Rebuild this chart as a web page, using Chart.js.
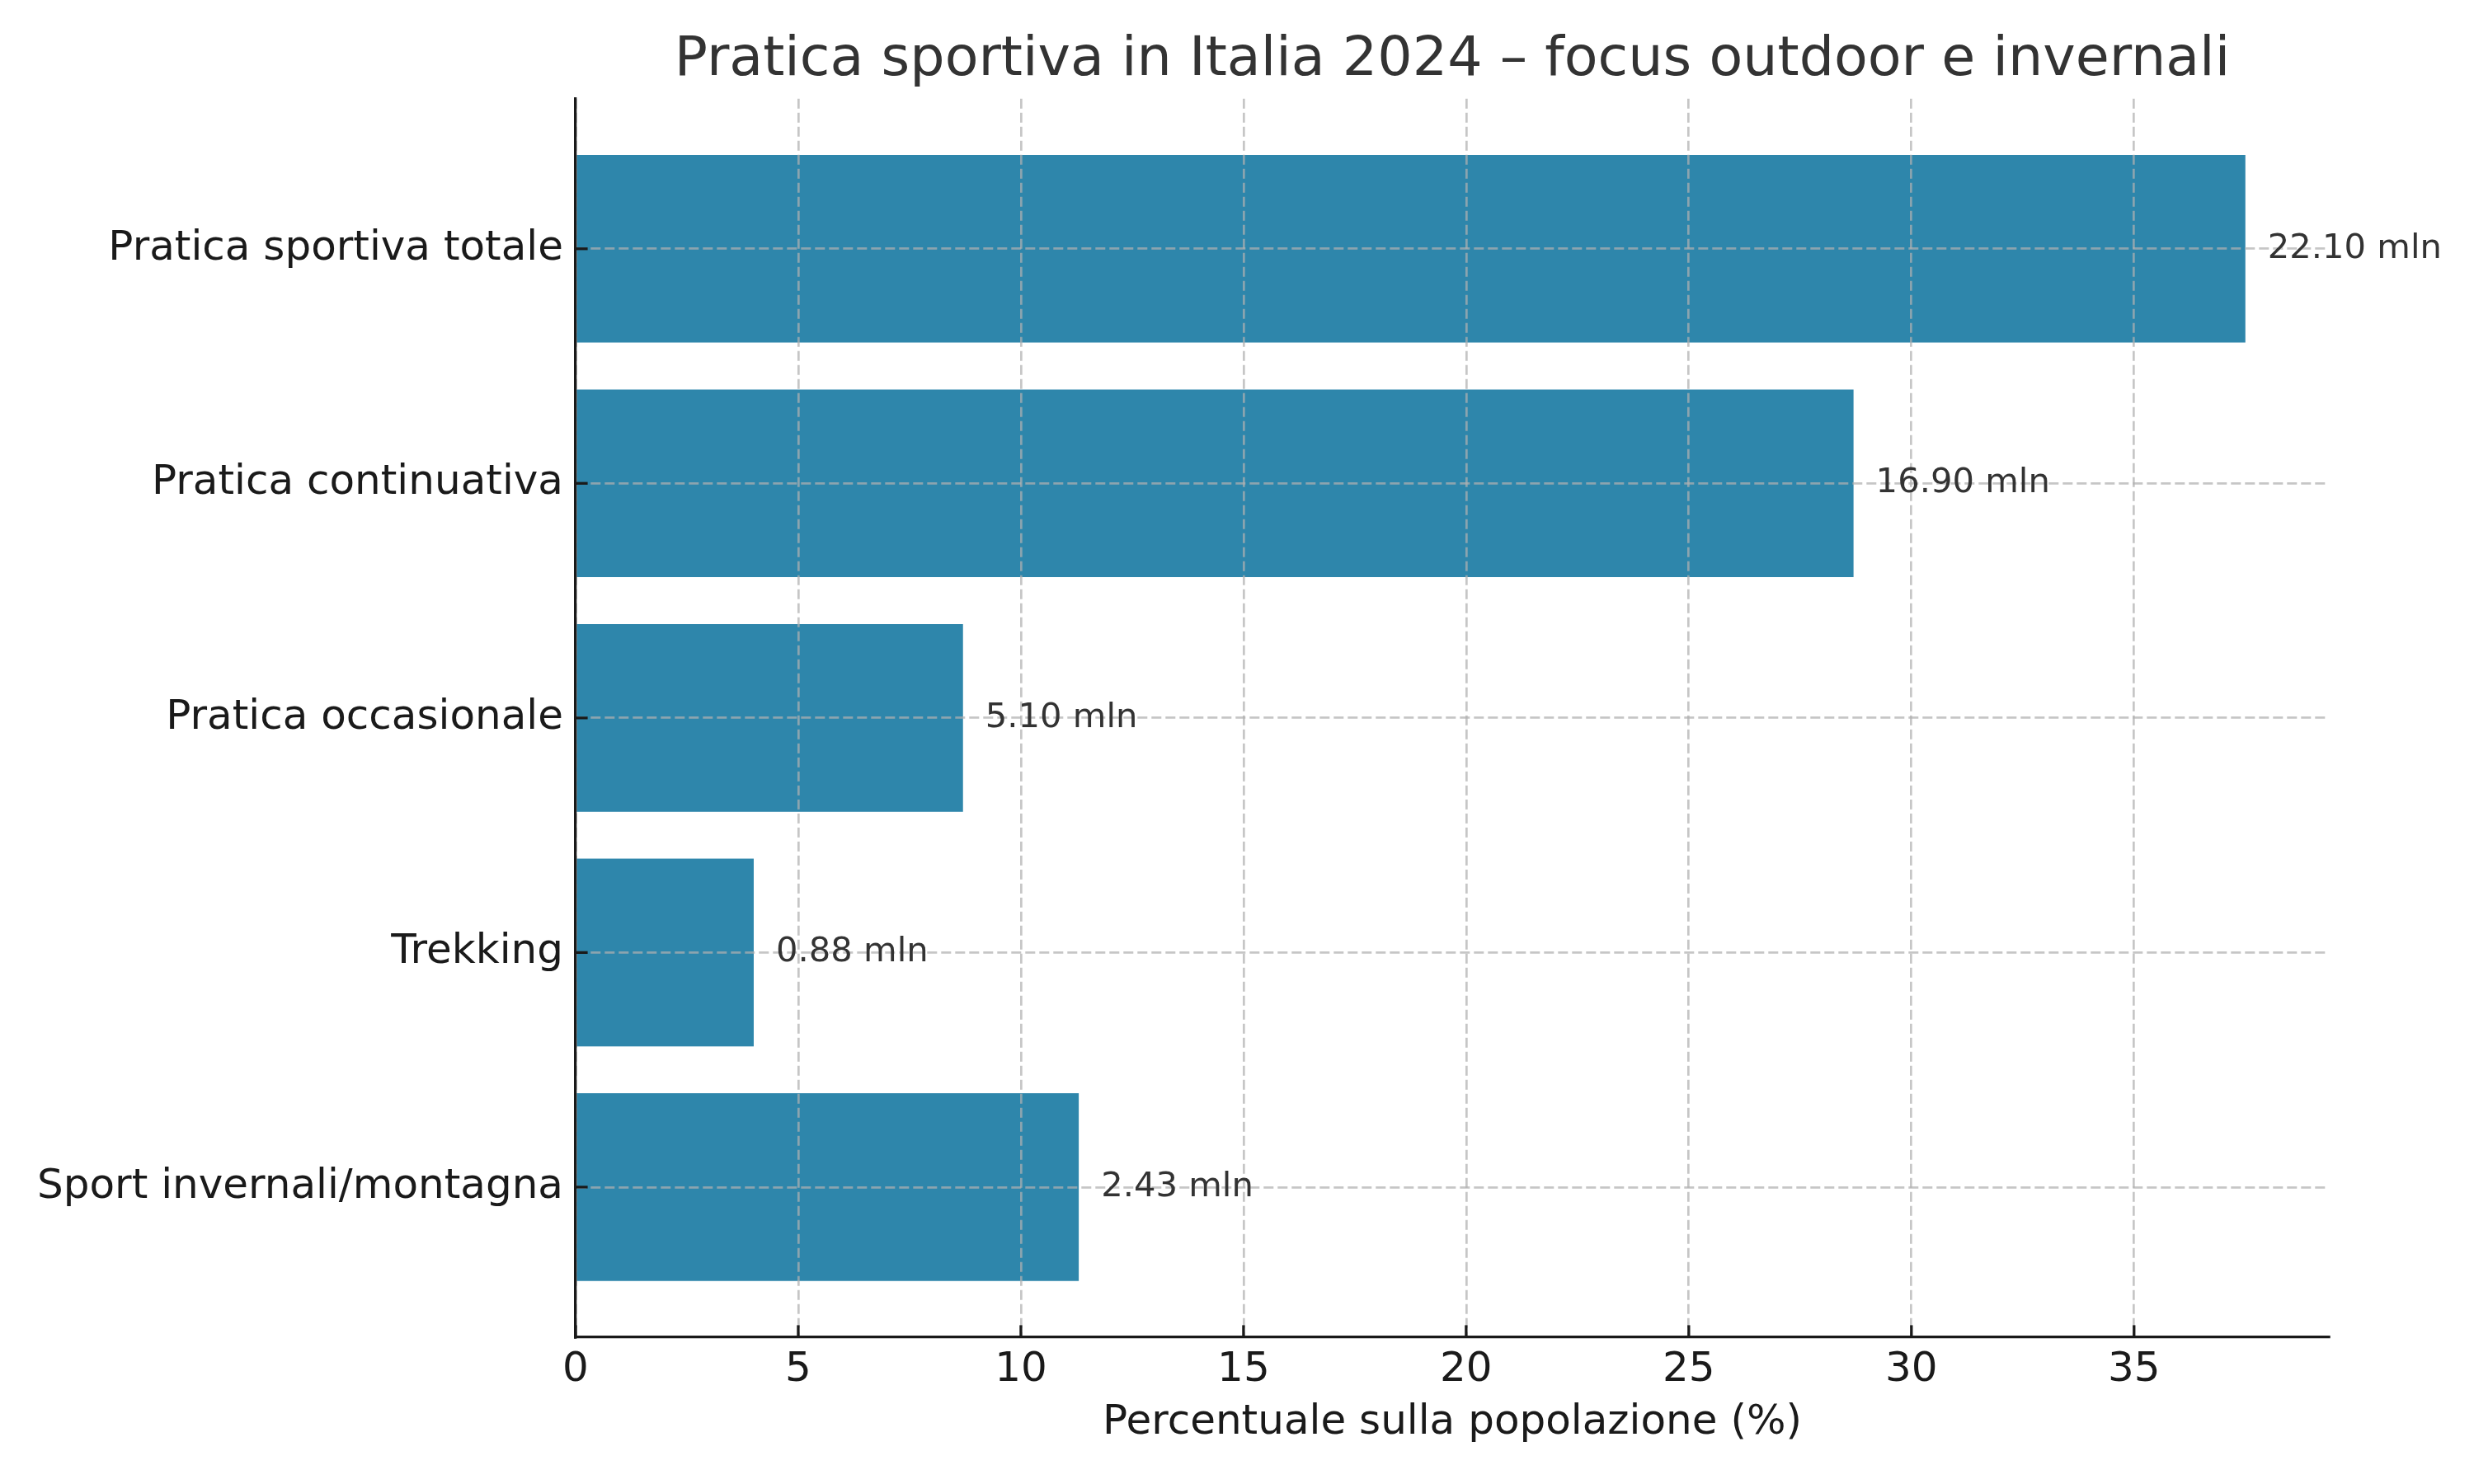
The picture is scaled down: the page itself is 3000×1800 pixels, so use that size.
<!DOCTYPE html>
<html>
<head>
<meta charset="utf-8">
<script src="https://cdn.jsdelivr.net/npm/chart.js@4"></script>
<style>
  html, body { margin: 0; padding: 0; background: #ffffff; }
  #wrap { width: 3000px; height: 1800px; }
</style>
</head>
<body>
<div id="wrap"><canvas id="c" width="3000" height="1800"></canvas></div>
<script>
// ---- data ----
const categories = ['Pratica sportiva totale', 'Pratica continuativa', 'Pratica occasionale', 'Trekking', 'Sport invernali/montagna'];
const percentages = [37.5, 28.7, 8.7, 4.0, 11.3];
const millions = [22.10, 16.90, 5.10, 0.88, 2.43];
const xTicks = [0, 5, 10, 15, 20, 25, 30, 35];
const titleText = 'Pratica sportiva in Italia 2024 \u2013 focus outdoor e invernali';
const xLabel = 'Percentuale sulla popolazione (%)';

const FONT = 'DejaVu Sans';
const GRID = 'rgba(176,176,176,0.72)';
const AXIS = '#1a1a1a';

const innerTicks = {
  id: 'innerTicks',
  afterDraw(chart) {
    const {ctx, chartArea} = chart;
    const xs = chart.scales.x, ys = chart.scales.y;
    ctx.save();
    ctx.strokeStyle = AXIS;
    ctx.lineWidth = 3.3;
    xTicks.forEach(v => {
      const px = xs.getPixelForValue(v);
      ctx.beginPath();
      ctx.moveTo(px, chartArea.bottom);
      ctx.lineTo(px, chartArea.bottom - 14.6);
      ctx.stroke();
    });
    categories.forEach((c, i) => {
      const py = ys.getPixelForValue(i);
      ctx.beginPath();
      ctx.moveTo(chartArea.left, py);
      ctx.lineTo(chartArea.left + 14.6, py);
      ctx.stroke();
    });
    // value labels
    ctx.fillStyle = '#333333';
    ctx.font = '41.7px "' + FONT + '"';
    ctx.textAlign = 'left';
    ctx.textBaseline = 'middle';
    percentages.forEach((v, i) => {
      const px = xs.getPixelForValue(v + 0.5);
      const py = ys.getPixelForValue(i);
      ctx.fillText(millions[i].toFixed(2) + ' mln', px, py);
    });
    ctx.restore();
  }
};

new Chart(document.getElementById('c'), {
  type: 'bar',
  data: {
    datasets: [{
      data: percentages.map((v, i) => ({x: v, y: i})),
      backgroundColor: '#2E86AB',
      borderWidth: 0,
      barPercentage: 0.8,
      categoryPercentage: 1.0
    }]
  },
  options: {
    indexAxis: 'y',
    responsive: false,
    animation: false,
    devicePixelRatio: 1,
    layout: { padding: { left: 0, right: 176, top: 0, bottom: 0 } },
    plugins: {
      legend: { display: false },
      tooltip: { enabled: false },
      title: {
        display: true,
        text: titleText,
        fullSize: false,
        color: '#333333',
        font: { family: FONT, size: 66.7, weight: 'normal', lineHeight: 1.2 },
        padding: { top: 34, bottom: 5.6 }
      }
    },
    scales: {
      x: {
        type: 'linear',
        position: 'bottom',
        min: 0,
        max: 39.375,
        offset: false,
        afterBuildTicks: s => { s.ticks = xTicks.map(v => ({value: v})); },
        afterFit: s => { s.height = 178; },
        grid: { color: GRID, lineWidth: 2.7, drawTicks: false, offset: false, z: 1 },
        border: { display: true, color: AXIS, width: 3.3, dash: [12, 5], z: 2 },
        ticks: {
          color: AXIS,
          padding: 10,
          font: { family: FONT, size: 50 },
          maxRotation: 0,
          callback: v => String(v)
        },
        title: {
          display: true,
          text: xLabel,
          color: AXIS,
          font: { family: FONT, size: 50 },
          padding: { top: 0, bottom: 44 }
        }
      },
      y: {
        type: 'linear',
        position: 'left',
        reverse: true,
        min: -0.64,
        max: 4.64,
        offset: false,
        afterBuildTicks: s => { s.ticks = categories.map((c, i) => ({value: i})); },
        afterFit: s => { s.width = 698; },
        grid: { color: GRID, lineWidth: 2.7, drawTicks: false, offset: false, z: 1 },
        border: { display: true, color: AXIS, width: 3.3, dash: [12, 5], z: 2 },
        ticks: {
          color: AXIS,
          padding: 15,
          font: { family: FONT, size: 50 },
          callback: v => (categories[v] !== undefined ? categories[v] : '')
        }
      }
    }
  },
  plugins: [innerTicks]
});
</script>
</body>
</html>
